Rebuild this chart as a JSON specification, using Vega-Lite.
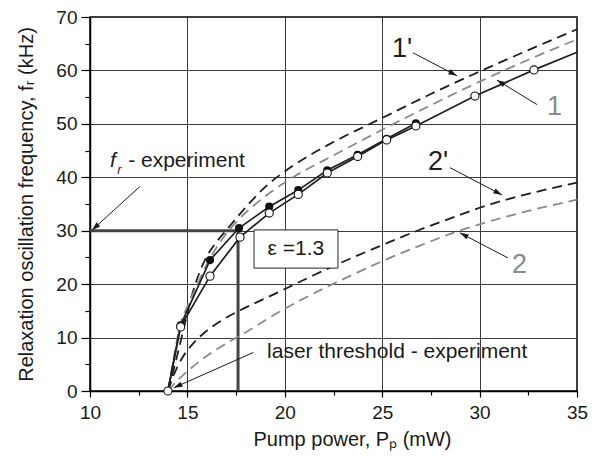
{
  "$schema": "https://vega.github.io/schema/vega-lite/v6.json",
  "width": 487,
  "height": 374,
  "autosize": {"type": "none"},
  "padding": {"left": 90, "top": 17, "right": 19, "bottom": 68},
  "background": "white",
  "config": {
    "view": {"stroke": "#000", "strokeWidth": 1.5},
    "font": "Liberation Sans",
    "axis": {
      "labelFont": "Liberation Sans",
      "titleFont": "Liberation Sans",
      "labelFontSize": 19,
      "titleFontSize": 20,
      "titleFontWeight": "normal",
      "labelColor": "#1a1a1a",
      "titleColor": "#1a1a1a",
      "domainColor": "#000",
      "domainWidth": 1.5,
      "tickColor": "#000",
      "tickWidth": 1.2,
      "gridColor": "#3c3c3c",
      "gridWidth": 1,
      "gridOpacity": 1,
      "labelFlush": false,
      "labelOverlap": false
    },
    "text": {"font": "Liberation Sans"}
  },
  "datasets": {
    "theory": [
      {"curve": "1'", "P": 14, "f": 0}, {"curve": "1'", "P": 14.4, "f": 5.5}, {"curve": "1'", "P": 14.8, "f": 11.5},
      {"curve": "1'", "P": 15.2, "f": 17.5}, {"curve": "1'", "P": 15.6, "f": 22}, {"curve": "1'", "P": 16, "f": 25.2},
      {"curve": "1'", "P": 16.5, "f": 27.9}, {"curve": "1'", "P": 17, "f": 30.1}, {"curve": "1'", "P": 18, "f": 34.4},
      {"curve": "1'", "P": 19, "f": 38.2}, {"curve": "1'", "P": 20, "f": 41.1}, {"curve": "1'", "P": 21, "f": 43.5},
      {"curve": "1'", "P": 22.5, "f": 46.6}, {"curve": "1'", "P": 25, "f": 51.1}, {"curve": "1'", "P": 27.5, "f": 55.6},
      {"curve": "1'", "P": 30, "f": 59.8}, {"curve": "1'", "P": 32.5, "f": 63.8}, {"curve": "1'", "P": 35, "f": 67.7},

      {"curve": "1", "P": 14, "f": 0}, {"curve": "1", "P": 14.3, "f": 6.3}, {"curve": "1", "P": 14.62, "f": 12.2},
      {"curve": "1", "P": 15, "f": 15.8}, {"curve": "1", "P": 15.5, "f": 19.9}, {"curve": "1", "P": 16.16, "f": 24.8},
      {"curve": "1", "P": 16.8, "f": 28.5}, {"curve": "1", "P": 17.5, "f": 31.6}, {"curve": "1", "P": 18.5, "f": 35.0},
      {"curve": "1", "P": 19.5, "f": 37.8}, {"curve": "1", "P": 20.5, "f": 40.2}, {"curve": "1", "P": 21.5, "f": 42.2},
      {"curve": "1", "P": 22.5, "f": 44.1}, {"curve": "1", "P": 25, "f": 48.9}, {"curve": "1", "P": 27.5, "f": 53.5},
      {"curve": "1", "P": 30, "f": 57.9}, {"curve": "1", "P": 32.5, "f": 62.0}, {"curve": "1", "P": 35, "f": 65.8},

      {"curve": "2'", "P": 14, "f": 0}, {"curve": "2'", "P": 14.3, "f": 3}, {"curve": "2'", "P": 14.7, "f": 6},
      {"curve": "2'", "P": 15.2, "f": 8.5}, {"curve": "2'", "P": 15.9, "f": 11}, {"curve": "2'", "P": 16.8, "f": 13.3},
      {"curve": "2'", "P": 17.7, "f": 15.1}, {"curve": "2'", "P": 18.8, "f": 17}, {"curve": "2'", "P": 19.9, "f": 18.9},
      {"curve": "2'", "P": 21.5, "f": 21.7}, {"curve": "2'", "P": 23, "f": 24.2}, {"curve": "2'", "P": 25, "f": 27.3},
      {"curve": "2'", "P": 26.8, "f": 30}, {"curve": "2'", "P": 28.5, "f": 32.3}, {"curve": "2'", "P": 30, "f": 34.3},
      {"curve": "2'", "P": 32.5, "f": 36.9}, {"curve": "2'", "P": 35, "f": 39.0},

      {"curve": "2", "P": 14, "f": 0}, {"curve": "2", "P": 14.5, "f": 2}, {"curve": "2", "P": 15.1, "f": 4},
      {"curve": "2", "P": 15.9, "f": 6.3}, {"curve": "2", "P": 17, "f": 8.9}, {"curve": "2", "P": 18, "f": 11},
      {"curve": "2", "P": 19.2, "f": 13.7}, {"curve": "2", "P": 20.4, "f": 16.2}, {"curve": "2", "P": 22, "f": 19.2},
      {"curve": "2", "P": 23.5, "f": 21.8}, {"curve": "2", "P": 25, "f": 24.3}, {"curve": "2", "P": 27, "f": 27.3},
      {"curve": "2", "P": 28.8, "f": 29.8}, {"curve": "2", "P": 30, "f": 31.2}, {"curve": "2", "P": 32.5, "f": 33.7},
      {"curve": "2", "P": 35, "f": 35.8}
    ],
    "measured": [
      {"series": "open", "P": 14, "f": 0, "marker": true},
      {"series": "open", "P": 14.65, "f": 12.0, "marker": true},
      {"series": "open", "P": 16.16, "f": 21.5, "marker": true},
      {"series": "open", "P": 17.7, "f": 28.8, "marker": true},
      {"series": "open", "P": 19.2, "f": 33.3, "marker": true},
      {"series": "open", "P": 20.69, "f": 36.8, "marker": true},
      {"series": "open", "P": 22.18, "f": 40.8, "marker": true},
      {"series": "open", "P": 23.74, "f": 43.9, "marker": true},
      {"series": "open", "P": 25.23, "f": 47.0, "marker": true},
      {"series": "open", "P": 26.73, "f": 49.6, "marker": true},
      {"series": "open", "P": 29.76, "f": 55.2, "marker": true},
      {"series": "open", "P": 32.79, "f": 60.1, "marker": true},
      {"series": "open", "P": 35, "f": 63.4, "marker": false},
      {"series": "filled", "P": 14, "f": 0, "marker": false},
      {"series": "filled", "P": 14.65, "f": 12.3, "marker": true},
      {"series": "filled", "P": 16.16, "f": 24.5, "marker": true},
      {"series": "filled", "P": 17.65, "f": 30.5, "marker": true},
      {"series": "filled", "P": 19.2, "f": 34.5, "marker": true},
      {"series": "filled", "P": 20.69, "f": 37.6, "marker": true},
      {"series": "filled", "P": 22.18, "f": 41.3, "marker": true},
      {"series": "filled", "P": 23.74, "f": 44.2, "marker": true},
      {"series": "filled", "P": 25.23, "f": 47.2, "marker": true},
      {"series": "filled", "P": 26.73, "f": 50.1, "marker": true}
    ],
    "guides": [
      {"P": 10, "P2": 17.6, "f": 30, "f2": 30},
      {"P": 17.6, "P2": 17.6, "f": 0, "f2": 30}
    ],
    "arrows": [
      {"arrow": "a1p", "P": 26.58, "f": 63.3}, {"arrow": "a1p", "P": 28.84, "f": 59.0},
      {"arrow": "a1", "P": 32.95, "f": 53.6}, {"arrow": "a1", "P": 30.89, "f": 58.2},
      {"arrow": "a2p", "P": 28.48, "f": 41.8}, {"arrow": "a2p", "P": 31.15, "f": 36.7},
      {"arrow": "a2", "P": 31.46, "f": 24.9}, {"arrow": "a2", "P": 28.99, "f": 29.6},
      {"arrow": "afr", "P": 12.57, "f": 38.3}, {"arrow": "afr", "P": 10.1, "f": 30.1},
      {"arrow": "athr", "P": 18.38, "f": 7.2}, {"arrow": "athr", "P": 14.3, "f": 0.6}
    ],
    "heads": [
      {"P": 28.84, "f": 59.0, "angle": 27.6},
      {"P": 30.89, "f": 58.2, "angle": 211.5},
      {"P": 31.15, "f": 36.7, "angle": 27.6},
      {"P": 28.99, "f": 29.6, "angle": 207.6},
      {"P": 10.1, "f": 30.1, "angle": 137.7},
      {"P": 14.3, "f": 0.6, "angle": 156.1}
    ],
    "curveLabels": [
      {"curve": "1'", "P": 25.5, "f": 62.5},
      {"curve": "1", "P": 33.46, "f": 51.7},
      {"curve": "2'", "P": 27.35, "f": 41.4},
      {"curve": "2", "P": 31.66, "f": 22.1}
    ],
    "notes": [
      {"label": "laser threshold - experiment", "P": 19.09, "f": 6.2},
      {"label": "- experiment", "P": 11.96, "f": 42.0}
    ],
    "box": [{"P": 18.42, "P2": 22.73, "f": 23.0, "f2": 30.15, "label": "ε =1.3", "Pc": 20.57, "fc": 26.6}]
  },
  "resolve": {"axis": {"x": "independent", "y": "independent"}},
  "layer": [
    {
      "data": {"name": "guides"},
      "mark": {"type": "rule", "color": "#444", "strokeWidth": 3},
      "encoding": {
        "x": {"field": "P", "type": "quantitative", "scale": {"domain": [10, 35], "nice": false, "zero": false}, "axis": null},
        "x2": {"field": "P2"},
        "y": {"field": "f", "type": "quantitative", "scale": {"domain": [0, 70], "nice": false, "zero": false}, "axis": null},
        "y2": {"field": "f2"}
      }
    },
    {
      "data": {"name": "theory"},
      "mark": {"type": "line", "strokeWidth": 1.8, "strokeDash": [10, 6], "interpolate": "monotone"},
      "encoding": {
        "x": {
          "field": "P", "type": "quantitative",
          "scale": {"domain": [10, 35], "nice": false, "zero": false},
          "axis": {
            "values": [10, 15, 20, 25, 30, 35], "grid": true, "tickSize": 6, "labelPadding": 6,
            "orient": "bottom", "title": "Pump power, Pₚ (mW)", "titlePadding": 7, "titleX": 262
          }
        },
        "y": {
          "field": "f", "type": "quantitative",
          "scale": {"domain": [0, 70], "nice": false, "zero": false},
          "axis": {
            "values": [0, 10, 20, 30, 40, 50, 60, 70], "grid": true, "tickSize": 9, "labelPadding": 4,
            "orient": "left", "title": "Relaxation oscillation frequency, fᵣ (kHz)", "titlePadding": 19
          }
        },
        "detail": {"field": "curve"},
        "color": {
          "field": "curve", "type": "nominal",
          "scale": {"domain": ["1'", "1", "2'", "2"], "range": ["#1e1e1e", "#8a8a8a", "#1e1e1e", "#8a8a8a"]},
          "legend": null
        }
      }
    },
    {
      "data": {"name": "measured"},
      "mark": {"type": "line", "color": "#1e1e1e", "strokeWidth": 1.7},
      "encoding": {
        "x": {
          "field": "P", "type": "quantitative",
          "scale": {"domain": [10, 35], "nice": false, "zero": false},
          "axis": {
            "values": [12.5, 17.5, 22.5, 27.5, 32.5], "labels": false, "grid": false, "domain": false,
            "tickSize": 4, "orient": "bottom", "title": null
          }
        },
        "y": {
          "field": "f", "type": "quantitative",
          "scale": {"domain": [0, 70], "nice": false, "zero": false},
          "axis": {
            "values": [5, 15, 25, 35, 45, 55, 65], "labels": false, "grid": false, "domain": false,
            "tickSize": 5, "orient": "left", "title": null
          }
        },
        "detail": {"field": "series"},
        "order": {"field": "P", "type": "quantitative"}
      }
    },
    {
      "data": {"name": "measured"},
      "transform": [{"filter": "datum.series === 'filled' && datum.marker"}],
      "mark": {"type": "point", "shape": "circle", "filled": true, "color": "#111", "size": 66, "opacity": 1},
      "encoding": {
        "x": {"field": "P", "type": "quantitative", "scale": {"domain": [10, 35], "nice": false, "zero": false}, "axis": null},
        "y": {"field": "f", "type": "quantitative", "scale": {"domain": [0, 70], "nice": false, "zero": false}, "axis": null}
      }
    },
    {
      "data": {"name": "measured"},
      "transform": [{"filter": "datum.series === 'open' && datum.marker"}],
      "mark": {"type": "point", "shape": "circle", "filled": true, "fill": "white", "stroke": "#111", "strokeWidth": 1.1, "size": 66, "opacity": 1},
      "encoding": {
        "x": {"field": "P", "type": "quantitative", "scale": {"domain": [10, 35], "nice": false, "zero": false}, "axis": null},
        "y": {"field": "f", "type": "quantitative", "scale": {"domain": [0, 70], "nice": false, "zero": false}, "axis": null}
      }
    },
    {
      "data": {"name": "box"},
      "mark": {"type": "rect", "fill": "white", "stroke": "#222", "strokeWidth": 1},
      "encoding": {
        "x": {"field": "P", "type": "quantitative", "scale": {"domain": [10, 35], "nice": false, "zero": false}, "axis": null},
        "x2": {"field": "P2"},
        "y": {"field": "f", "type": "quantitative", "scale": {"domain": [0, 70], "nice": false, "zero": false}, "axis": null},
        "y2": {"field": "f2"}
      }
    },
    {
      "data": {"name": "box"},
      "mark": {"type": "text", "fontSize": 21, "color": "#1a1a1a", "align": "center", "baseline": "middle"},
      "encoding": {
        "x": {"field": "Pc", "type": "quantitative", "scale": {"domain": [10, 35], "nice": false, "zero": false}, "axis": null},
        "y": {"field": "fc", "type": "quantitative", "scale": {"domain": [0, 70], "nice": false, "zero": false}, "axis": null},
        "text": {"field": "label"}
      }
    },
    {
      "data": {"name": "arrows"},
      "mark": {"type": "line", "color": "#1a1a1a", "strokeWidth": 1},
      "encoding": {
        "x": {"field": "P", "type": "quantitative", "scale": {"domain": [10, 35], "nice": false, "zero": false}, "axis": null},
        "y": {"field": "f", "type": "quantitative", "scale": {"domain": [0, 70], "nice": false, "zero": false}, "axis": null},
        "detail": {"field": "arrow"},
        "order": {"value": 0}
      }
    },
    {
      "data": {"name": "heads"},
      "mark": {"type": "point", "shape": "M0,0 L-1,-0.32 L-1,0.32 Z", "filled": true, "color": "#1a1a1a", "size": 300, "opacity": 1},
      "encoding": {
        "x": {"field": "P", "type": "quantitative", "scale": {"domain": [10, 35], "nice": false, "zero": false}, "axis": null},
        "y": {"field": "f", "type": "quantitative", "scale": {"domain": [0, 70], "nice": false, "zero": false}, "axis": null},
        "angle": {"field": "angle", "type": "quantitative", "scale": null}
      }
    },
    {
      "data": {"name": "curveLabels"},
      "mark": {"type": "text", "fontSize": 27, "align": "left", "baseline": "alphabetic"},
      "encoding": {
        "x": {"field": "P", "type": "quantitative", "scale": {"domain": [10, 35], "nice": false, "zero": false}, "axis": null},
        "y": {"field": "f", "type": "quantitative", "scale": {"domain": [0, 70], "nice": false, "zero": false}, "axis": null},
        "text": {"field": "curve"},
        "color": {"field": "curve", "type": "nominal", "legend": null}
      }
    },
    {
      "data": {"name": "notes"},
      "mark": {"type": "text", "fontSize": 21, "color": "#1a1a1a", "align": "left", "baseline": "alphabetic"},
      "encoding": {
        "x": {"field": "P", "type": "quantitative", "scale": {"domain": [10, 35], "nice": false, "zero": false}, "axis": null},
        "y": {"field": "f", "type": "quantitative", "scale": {"domain": [0, 70], "nice": false, "zero": false}, "axis": null},
        "text": {"field": "label"}
      }
    },
    {
      "data": {"values": [{"sym": "f", "P": 11.03, "f": 42.0}]},
      "mark": {"type": "text", "fontSize": 21, "fontStyle": "italic", "color": "#1a1a1a", "align": "left", "baseline": "alphabetic"},
      "encoding": {
        "x": {"field": "P", "type": "quantitative", "scale": {"domain": [10, 35], "nice": false, "zero": false}, "axis": null},
        "y": {"field": "f", "type": "quantitative", "scale": {"domain": [0, 70], "nice": false, "zero": false}, "axis": null},
        "text": {"field": "sym"}
      }
    },
    {
      "data": {"values": [{"sym": "r", "P": 11.4, "f": 40.6}]},
      "mark": {"type": "text", "fontSize": 13, "fontStyle": "italic", "color": "#1a1a1a", "align": "left", "baseline": "alphabetic"},
      "encoding": {
        "x": {"field": "P", "type": "quantitative", "scale": {"domain": [10, 35], "nice": false, "zero": false}, "axis": null},
        "y": {"field": "f", "type": "quantitative", "scale": {"domain": [0, 70], "nice": false, "zero": false}, "axis": null},
        "text": {"field": "sym"}
      }
    }
  ]
}
